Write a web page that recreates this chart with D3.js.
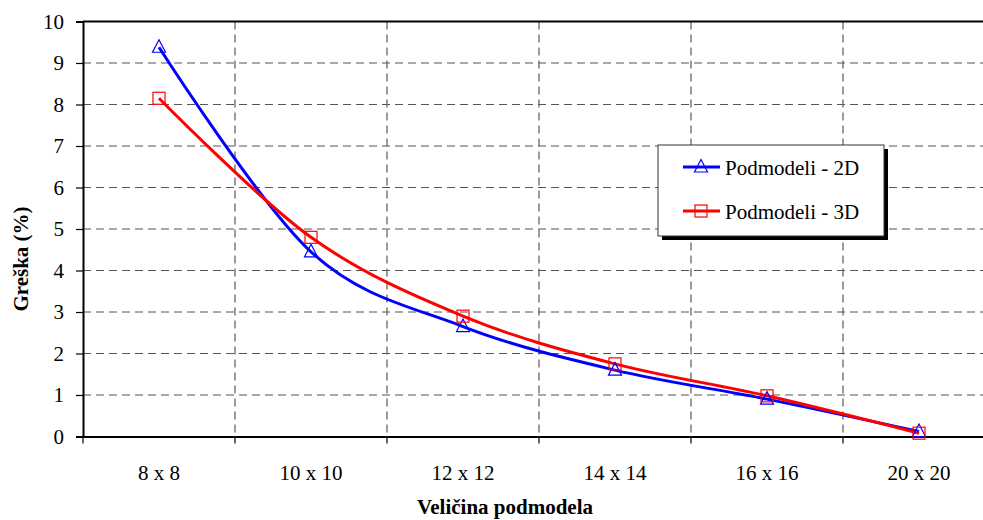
<!DOCTYPE html>
<html>
<head>
<meta charset="utf-8">
<script src="https://cdn.jsdelivr.net/npm/d3@7"></script>
<style>
  body { margin: 0; background: #fff; }
  svg { display: block; }
  svg text { font-family: "Liberation Serif", "Times New Roman", serif; }
</style>
</head>
<body>
<div id="chart"></div>
<script>
(function () {
  "use strict";

  const categories = ["8 x 8", "10 x 10", "12 x 12", "14 x 14", "16 x 16", "20 x 20"];
  const values2D = [9.38, 4.45, 2.65, 1.6, 0.9, 0.12];
  const values3D = [8.15, 4.8, 2.9, 1.75, 0.98, 0.08];
  const yTicks = [0, 1, 2, 3, 4, 5, 6, 7, 8, 9, 10];
  const seriesNames = ["Podmodeli - 2D", "Podmodeli - 3D"];

  const w = 983, h = 520;
  const m = { left: 83, top: 21.5, right: -12, bottom: 83.5 };
  const FONT = "Liberation Serif, Times New Roman, serif";

  const svg = d3.select("#chart").append("svg")
    .attr("width", w).attr("height", h);

  const x = d3.scaleBand().domain(categories).range([m.left, w - m.right]);
  const y = d3.scaleLinear().domain([0, 10]).range([h - m.bottom, m.top]);

  // grid
  const grid = svg.append("g");
  grid.selectAll("line.h")
    .data(yTicks.slice(1, -1))
    .enter().append("line")
    .attr("x1", m.left).attr("x2", w)
    .attr("y1", d => y(d)).attr("y2", d => y(d))
    .attr("stroke", "#555").attr("stroke-width", 1)
    .attr("stroke-dasharray", "8,5");
  grid.selectAll("line.v")
    .data(categories.slice(1))
    .enter().append("line")
    .attr("x1", d => x(d)).attr("x2", d => x(d))
    .attr("y1", y(10)).attr("y2", y(0))
    .attr("stroke", "#666").attr("stroke-width", 1.3)
    .attr("stroke-dasharray", "8,5");

  // top border
  svg.append("line")
    .attr("x1", m.left).attr("x2", w)
    .attr("y1", y(10)).attr("y2", y(10))
    .attr("stroke", "#000").attr("stroke-width", 2);

  // y axis
  const yAxis = svg.append("g")
    .attr("transform", `translate(${m.left},0)`)
    .call(d3.axisLeft(y).tickValues(yTicks).tickSize(7).tickPadding(12).tickFormat(d3.format("d")));
  yAxis.select(".domain").attr("stroke-width", 2);
  yAxis.selectAll(".tick line").attr("stroke-width", 1.2);
  yAxis.selectAll("text").style("font-family", FONT).style("font-size", "21px").attr("fill", "#000");

  // x axis
  const xAxis = svg.append("g")
    .attr("transform", `translate(0,${y(0)})`)
    .call(d3.axisBottom(x).tickSize(0).tickPadding(29));
  xAxis.select(".domain").attr("stroke-width", 2);
  xAxis.selectAll("text").style("font-family", FONT).style("font-size", "21px").attr("fill", "#000");
  // boundary ticks between categories
  xAxis.selectAll("line.bt")
    .data(categories)
    .enter().append("line")
    .attr("x1", d => x(d)).attr("x2", d => x(d))
    .attr("y1", 0).attr("y2", 7)
    .attr("stroke", "#000").attr("stroke-width", 1.2);

  // lines
  const cx = d => x(d) + x.bandwidth() / 2;
  const line = d3.line()
    .x((d, i) => cx(categories[i]))
    .y(d => y(d))
    .curve(d3.curveCardinal.tension(0));

  const series = [
    { name: seriesNames[0], values: values2D, color: "#0000ff", marker: "tri" },
    { name: seriesNames[1], values: values3D, color: "#ff0000", marker: "sq" }
  ];

  function drawMarker(g, type, px, py, color) {
    if (type === "tri") {
      g.append("path")
        .attr("d", `M${px},${py - 7.5}L${px + 6.5},${py + 5}L${px - 6.5},${py + 5}Z`)
        .attr("fill", "none").attr("stroke", color).attr("stroke-width", 1.2);
    } else {
      g.append("rect")
        .attr("x", px - 6).attr("y", py - 6)
        .attr("width", 12).attr("height", 12)
        .attr("fill", "none").attr("stroke", color).attr("stroke-width", 1.2);
    }
  }

  series.forEach(s => {
    svg.append("path")
      .datum(s.values)
      .attr("d", line)
      .attr("fill", "none")
      .attr("stroke", s.color)
      .attr("stroke-width", 3);
  });
  series.forEach(s => {
    const g = svg.append("g");
    s.values.forEach((v, i) => drawMarker(g, s.marker, cx(categories[i]), y(v), s.color));
  });

  // legend
  const lg = svg.append("g").attr("transform", "translate(658,145)");
  lg.append("rect").attr("x", 4).attr("y", 4).attr("width", 226).attr("height", 91).attr("fill", "#000");
  lg.append("rect").attr("x", 0).attr("y", 0).attr("width", 226).attr("height", 91)
    .attr("fill", "#fff").attr("stroke", "#333").attr("stroke-width", 1);
  series.forEach((s, i) => {
    const ly = 22 + i * 44;
    lg.append("line").attr("x1", 25).attr("x2", 62).attr("y1", ly).attr("y2", ly)
      .attr("stroke", s.color).attr("stroke-width", 3);
    drawMarker(lg, s.marker, 43, ly, s.color);
    lg.append("text").attr("x", 67).attr("y", ly + 8)
      .style("font-family", FONT).style("font-size", "21px").text(s.name);
  });

  // axis titles
  svg.append("text")
    .attr("x", 505).attr("y", 514)
    .attr("text-anchor", "middle")
    .style("font-family", FONT).style("font-size", "21px").style("font-weight", "bold")
    .text("Veličina podmodela");
  svg.append("text")
    .attr("transform", "translate(28,259) rotate(-90)")
    .attr("text-anchor", "middle")
    .style("font-family", FONT).style("font-size", "21px").style("font-weight", "bold")
    .text("Greška (%)");
})();
</script>
</body>
</html>
